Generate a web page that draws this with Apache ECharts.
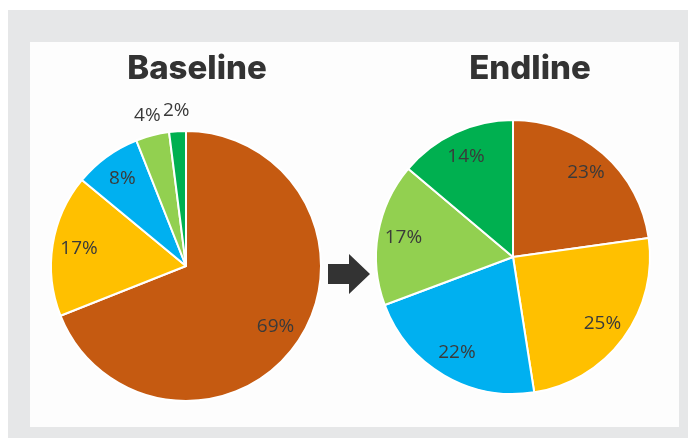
<!DOCTYPE html>
<html>
<head>
<meta charset="utf-8">
<script src="https://cdn.jsdelivr.net/npm/echarts@6/dist/echarts.min.js"></script>
<style>
  html, body { margin: 0; padding: 0; background: #ffffff; }
  #chart { width: 694px; height: 444px; }
</style>
</head>
<body>
<div id="chart"></div>
<script>
// Share of respondents per category, before and after the programme
const categories = ['A', 'B', 'C', 'D', 'E'];
const baselineValues = [69, 17, 8, 4, 2];
const endlineValues = [23, 25, 22, 17, 14];
const titles = ['Baseline', 'Endline'];
const sliceColors = ['#C55A11', '#FFC000', '#00B0F0', '#92D050', '#00B050'];

// Slices below this share get their label outside the pie
const OUTSIDE_LIMIT = 5;

function toData(values) {
  return values.map((v, i) => ({ name: categories[i], value: v }));
}

const labelFont = {
  fontFamily: 'Open Sans',
  fontSize: 19,
  color: '#3a3a3a'
};

function pieGroup(values, center, r, labelRing) {
  const data = toData(values);
  return [
    {
      // filled slices
      type: 'pie',
      center: center,
      radius: [0, r],
      startAngle: 90,
      clockwise: true,
      silent: true,
      animation: false,
      label: { show: false },
      labelLine: { show: false },
      itemStyle: {
        color: p => sliceColors[p.dataIndex],
        borderColor: '#ffffff',
        borderWidth: 2
      },
      data: data
    },
    {
      // labels placed on a ring inside each slice
      type: 'pie',
      center: center,
      radius: [r * labelRing[0], r * labelRing[1]],
      startAngle: 90,
      silent: true,
      animation: false,
      itemStyle: { color: 'rgba(0,0,0,0)' },
      label: Object.assign({
        show: true,
        position: 'inside',
        formatter: p => (p.value < OUTSIDE_LIMIT ? '' : p.value + '%')
      }, labelFont),
      labelLine: { show: false },
      data: data
    },
    {
      // labels for the thin slices, set just outside the rim
      type: 'pie',
      center: center,
      radius: [r * 1.04, r * 1.22],
      startAngle: 90,
      silent: true,
      animation: false,
      itemStyle: { color: 'rgba(0,0,0,0)' },
      label: Object.assign({
        show: true,
        position: 'inside',
        formatter: p => (p.value < OUTSIDE_LIMIT ? p.value + '%' : '')
      }, labelFont),
      labelLine: { show: false },
      data: data
    }
  ];
}

const chart = echarts.init(document.getElementById('chart'), null, { renderer: 'canvas' });

const titleStyle = { fontFamily: 'Inter', fontWeight: 800, fontSize: 33, color: '#333333' };

const option = {
  backgroundColor: '#ffffff',
  animation: false,
  title: [
    { text: titles[0], left: 192, top: 48, textAlign: 'center', textStyle: titleStyle },
    { text: titles[1], left: 525, top: 48, textAlign: 'center', textStyle: titleStyle }
  ],
  graphic: [
    { type: 'rect', z: -10, shape: { x: 8, y: 10, width: 680, height: 428 }, style: { fill: '#e6e7e8' } },
    { type: 'rect', z: -9, shape: { x: 30, y: 42, width: 649, height: 385 }, style: { fill: '#fdfdfd' } },
    {
      // arrow between the two pies
      type: 'polygon', z: 10,
      shape: { points: [[328, 264], [349, 264], [349, 254], [370, 274], [349, 294], [349, 284], [328, 284]] },
      style: { fill: '#333333' }
    }
  ],
  series: [].concat(
    pieGroup(baselineValues, [186, 266], 135, [0.56, 1.0]),
    pieGroup(endlineValues, [513, 257], 137, [0.58, 1.0])
  )
};

chart.setOption(option);
</script>
</body>
</html>
